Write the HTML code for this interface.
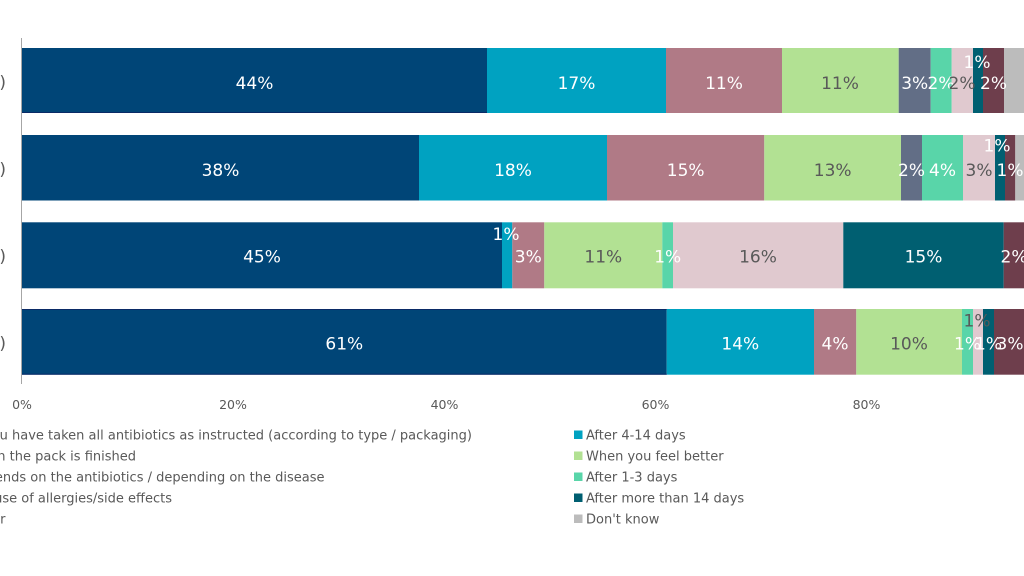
<!DOCTYPE html>
<html><head><meta charset="utf-8"><style>
html,body{margin:0;padding:0;background:#fff;}
svg{display:block;}
.l{font-family:"DejaVu Sans","Liberation Sans",sans-serif;font-size:17px;text-anchor:middle;}
.w{fill:#fff;}
.g{fill:#595959;}
.lg{font-family:"DejaVu Sans","Liberation Sans",sans-serif;font-size:13px;fill:#595959;}
.tk{font-family:"DejaVu Sans","Liberation Sans",sans-serif;font-size:12.5px;fill:#595959;text-anchor:middle;}
</style></head><body>
<svg width="1024" height="576" viewBox="0 0 1024 576" xmlns="http://www.w3.org/2000/svg">
<rect width="1024" height="576" fill="#fff"/>
<!-- Row 1 -->
<g>
<rect x="22" y="48" width="465" height="65" fill="#004577"/>
<rect x="487" y="48" width="179" height="65" fill="#00A2C1"/>
<rect x="666" y="48" width="116" height="65" fill="#B07A86"/>
<rect x="782" y="48" width="116.7" height="65" fill="#B2E193"/>
<rect x="898.7" y="48" width="32" height="65" fill="#626E86"/>
<rect x="930.7" y="48" width="21" height="65" fill="#59D5A9"/>
<rect x="951.7" y="48" width="21.3" height="65" fill="#E0C9CF"/>
<rect x="973" y="48" width="10" height="65" fill="#005F71"/>
<rect x="983" y="48" width="21" height="65" fill="#6E3E4C"/>
<rect x="1004" y="48" width="73" height="65" fill="#BCBCBC"/>
<rect x="22" y="112" width="465" height="1" fill="#0a2a66"/>
</g>
<!-- Row 2 -->
<g>
<rect x="22" y="135" width="397" height="65.5" fill="#004577"/>
<rect x="419" y="135" width="188" height="65.5" fill="#00A2C1"/>
<rect x="607" y="135" width="157.3" height="65.5" fill="#B07A86"/>
<rect x="764.3" y="135" width="136.7" height="65.5" fill="#B2E193"/>
<rect x="901" y="135" width="21" height="65.5" fill="#626E86"/>
<rect x="922" y="135" width="41" height="65.5" fill="#59D5A9"/>
<rect x="963" y="135" width="32" height="65.5" fill="#E0C9CF"/>
<rect x="995" y="135" width="10" height="65.5" fill="#005F71"/>
<rect x="1005" y="135" width="10.3" height="65.5" fill="#6E3E4C"/>
<rect x="1015.3" y="135" width="62" height="65.5" fill="#BCBCBC"/>
</g>
<!-- Row 3 -->
<g>
<rect x="22" y="222.3" width="480" height="66" fill="#004577"/>
<rect x="502" y="222.3" width="10.3" height="66" fill="#00A2C1"/>
<rect x="512.3" y="222.3" width="32" height="66" fill="#B07A86"/>
<rect x="544.3" y="222.3" width="118" height="66" fill="#B2E193"/>
<rect x="662.3" y="222.3" width="10.7" height="66" fill="#59D5A9"/>
<rect x="673" y="222.3" width="170.3" height="66" fill="#E0C9CF"/>
<rect x="843.3" y="222.3" width="160.4" height="66" fill="#005F71"/>
<rect x="1003.7" y="222.3" width="21.3" height="66" fill="#6E3E4C"/>
<rect x="1025" y="222.3" width="52" height="66" fill="#BCBCBC"/>
</g>
<!-- Row 4 -->
<g>
<rect x="22" y="309" width="644.7" height="65.7" fill="#004577"/>
<rect x="666.7" y="309" width="147.3" height="65.7" fill="#00A2C1"/>
<rect x="814" y="309" width="42.3" height="65.7" fill="#B07A86"/>
<rect x="856.3" y="309" width="105.7" height="65.7" fill="#B2E193"/>
<rect x="962" y="309" width="11" height="65.7" fill="#59D5A9"/>
<rect x="973" y="309" width="10" height="65.7" fill="#E0C9CF"/>
<rect x="983" y="309" width="11" height="65.7" fill="#005F71"/>
<rect x="994" y="309" width="31.7" height="65.7" fill="#6E3E4C"/>
<rect x="1025.7" y="309" width="52" height="65.7" fill="#BCBCBC"/>
<rect x="22" y="309" width="644.7" height="1" fill="#0a2a66"/>
<rect x="22" y="373.7" width="644.7" height="1" fill="#0a2a66"/>
</g>
<!-- axis -->
<rect x="21" y="38" width="1" height="346" fill="#A6A6A6"/>
<!-- category label ends -->
<g font-family="DejaVu Sans, Liberation Sans, sans-serif" font-size="17" fill="#595959" text-anchor="end">
<text x="6" y="88">)</text>
<text x="6" y="175">)</text>
<text x="6" y="262">)</text>
<text x="6" y="349">)</text>
</g>
<!-- labels row 1 -->
<text class="l w" x="254.5" y="89">44%</text>
<text class="l w" x="576.5" y="89">17%</text>
<text class="l w" x="724" y="89">11%</text>
<text class="l g" x="840" y="89">11%</text>
<text class="l w" x="914.7" y="89">3%</text>
<text class="l w" x="941" y="89">2%</text>
<text class="l g" x="962" y="89">2%</text>
<text class="l w" x="977" y="68">1%</text>
<text class="l w" x="993.5" y="89">2%</text>
<!-- labels row 2 -->
<text class="l w" x="220.5" y="176">38%</text>
<text class="l w" x="513" y="176">18%</text>
<text class="l w" x="685.7" y="176">15%</text>
<text class="l g" x="832.7" y="176">13%</text>
<text class="l w" x="911.5" y="176">2%</text>
<text class="l w" x="942.5" y="176">4%</text>
<text class="l g" x="979" y="176">3%</text>
<text class="l w" x="997" y="151.5">1%</text>
<text class="l w" x="1010" y="176">1%</text>
<!-- labels row 3 -->
<text class="l w" x="262" y="262.5">45%</text>
<text class="l w" x="506" y="240">1%</text>
<text class="l w" x="528.3" y="262.5">3%</text>
<text class="l g" x="603.3" y="262.5">11%</text>
<text class="l w" x="667.7" y="262.5">1%</text>
<text class="l g" x="758" y="262.5">16%</text>
<text class="l w" x="923.5" y="262.5">15%</text>
<text class="l w" x="1014" y="262.5">2%</text>
<!-- labels row 4 -->
<text class="l w" x="344.3" y="349.5">61%</text>
<text class="l w" x="740.3" y="349.5">14%</text>
<text class="l w" x="835" y="349.5">4%</text>
<text class="l g" x="909" y="349.5">10%</text>
<text class="l w" x="967.5" y="349.5">1%</text>
<text class="l g" x="977" y="326.5">1%</text>
<text class="l w" x="988.5" y="349.5">1%</text>
<text class="l w" x="1010" y="349.5">3%</text>
<!-- ticks -->
<text class="tk" x="22" y="409">0%</text>
<text class="tk" x="233" y="409">20%</text>
<text class="tk" x="444.5" y="409">40%</text>
<text class="tk" x="655.5" y="409">60%</text>
<text class="tk" x="866.5" y="409">80%</text>
<!-- legend left -->
<g class="lg" text-anchor="end">
<text x="472" y="439.5">Until you have taken all antibiotics as instructed (according to type / packaging)</text>
<text x="136" y="460.5">When the pack is finished</text>
<text x="324.5" y="481.5">Depends on the antibiotics / depending on the disease</text>
<text x="172" y="502.5">Because of allergies/side effects</text>
<text x="5.5" y="523.5">Other</text>
</g>
<!-- legend right -->
<rect x="574" y="430.5" width="8.5" height="8.5" fill="#00A2C1"/>
<rect x="574" y="451.5" width="8.5" height="8.5" fill="#B2E193"/>
<rect x="574" y="472.5" width="8.5" height="8.5" fill="#59D5A9"/>
<rect x="574" y="493.5" width="8.5" height="8.5" fill="#005F71"/>
<rect x="574" y="514.5" width="8.5" height="8.5" fill="#BCBCBC"/>
<g class="lg">
<text x="586" y="439.5">After 4-14 days</text>
<text x="586" y="460.5">When you feel better</text>
<text x="586" y="481.5">After 1-3 days</text>
<text x="586" y="502.5">After more than 14 days</text>
<text x="586" y="523.5">Don't know</text>
</g>
</svg>
</body></html>
